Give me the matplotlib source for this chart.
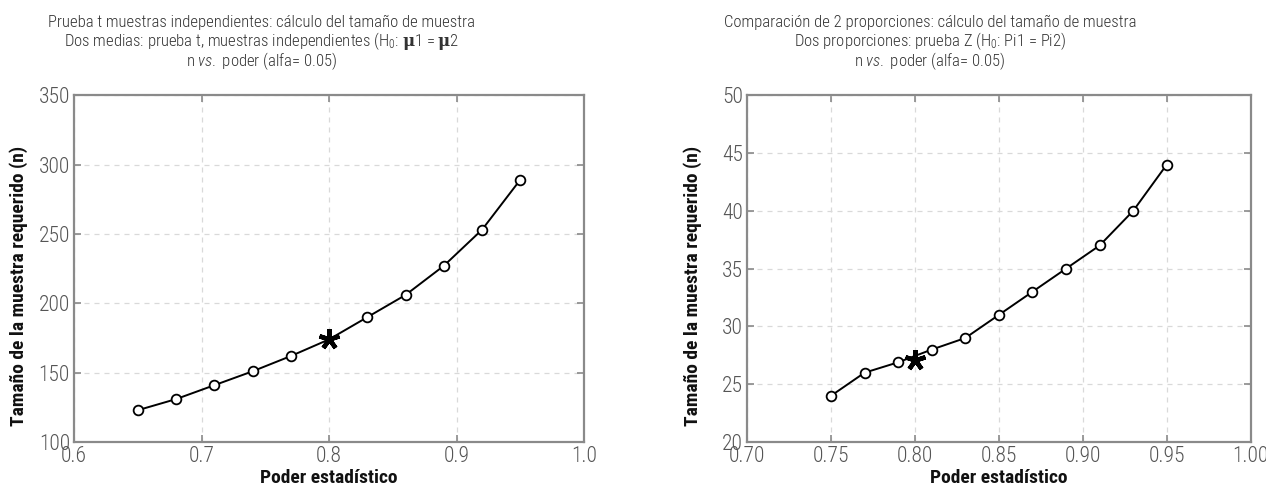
import matplotlib
matplotlib.use("Agg")
import matplotlib.pyplot as plt
from matplotlib import font_manager

# ---- data ----
power_t = [0.65, 0.68, 0.71, 0.74, 0.77, 0.83, 0.86, 0.89, 0.92, 0.95]
n_t = [123, 131, 141, 151, 162, 190, 206, 227, 253, 289]
star_t = (0.80, 174)

power_p = [0.75, 0.77, 0.79, 0.81, 0.83, 0.85, 0.87, 0.89, 0.91, 0.93, 0.95]
n_p = [24, 26, 26.9, 28, 29, 31, 33, 35, 37, 40, 44]
star_p = (0.80, 27.1)

xticks_t = [0.6, 0.7, 0.8, 0.9, 1.0]
xticklabels_t = ["0.6", "0.7", "0.8", "0.9", "1.0"]
yticks_t = [100, 150, 200, 250, 300, 350]

xticks_p = [0.70, 0.75, 0.80, 0.85, 0.90, 0.95, 1.00]
xticklabels_p = ["0.70", "0.75", "0.80", "0.85", "0.90", "0.95", "1.00"]
yticks_p = [20, 25, 30, 35, 40, 45, 50]

title_t = ["Prueba t muestras independientes: cálculo del tamaño de muestra",
           "Dos medias: prueba t, muestras independientes (H$_0$: $\\mathbf{\\mu}$1 = $\\mathbf{\\mu}$2",
           "n $\\it{vs.}$ poder (alfa= 0.05)"]
title_p = ["Comparación de 2 proporciones: cálculo del tamaño de muestra",
           "Dos proporciones: prueba Z (H$_0$: Pi1 = Pi2)",
           "n $\\it{vs.}$ poder (alfa= 0.05)"]
xlabel = "Poder estadístico"
ylabel = "Tamaño de la muestra requerido (n)"

# ---- fonts: prefer a narrow face ----
fonts = font_manager.fontManager.ttflist
names = {f.name for f in fonts}
family = None
for cand in ["Roboto Condensed", "Liberation Sans Narrow", "Arial Narrow"]:
    if cand in names:
        family = cand
        break
if family is None:
    family = "Liberation Sans" if "Liberation Sans" in names else "DejaVu Sans"
k = 1.0 if family in ("Roboto Condensed", "Liberation Sans Narrow", "Arial Narrow") else 0.82

plt.rcParams["font.family"] = [family, "DejaVu Sans"]
plt.rcParams["mathtext.fontset"] = "custom"
plt.rcParams["mathtext.rm"] = family + ":light"
plt.rcParams["mathtext.it"] = family + ":italic:light"
plt.rcParams["mathtext.bf"] = "DejaVu Serif:bold"

fig = plt.figure(figsize=(12.66, 4.94), dpi=100)
ax1 = fig.add_axes([0.0585, 0.105, 0.4028, 0.7025])
ax2 = fig.add_axes([0.590, 0.105, 0.398, 0.7025])

spine_c = "#8a8a8a"
tick_c = "#555555"
title_baselines = [27, 46.5, 66]


def style(ax, xticks, xlabels, yticks, title, title_x, ax_w_px, ylab_off):
    ax.set_xticks(xticks)
    ax.set_xticklabels(xlabels)
    ax.set_yticks(yticks)
    ax.set_xlim(xticks[0], xticks[-1])
    ax.set_ylim(yticks[0], yticks[-1])
    ax.grid(True, color="#d9d9d9", linestyle=(0, (4, 4)), linewidth=0.9)
    for s in ax.spines.values():
        s.set_color(spine_c)
        s.set_linewidth(1.6)
    ax.tick_params(direction="in", top=True, right=True, length=5, width=1.2,
                   color=spine_c, labelcolor=tick_c, labelsize=15.5 * k, pad=3)
    for lab in ax.get_xticklabels() + ax.get_yticklabels():
        lab.set_fontweight("light")
    ax.set_xlabel(xlabel, fontsize=14 * k, fontweight="bold", color="#111111", labelpad=1)
    ax.set_ylabel(ylabel, fontsize=14 * k, fontweight="bold", color="#111111")
    ax.yaxis.set_label_coords(-ylab_off / ax_w_px, 0.45)
    for line, yb in zip(title, title_baselines):
        fig.text(title_x, 1 - yb / 494, line, ha="center", va="baseline",
                 fontsize=12 * k, fontweight="light", color="#333333")


line_kw = dict(color="black", linewidth=1.4, marker="o", markersize=7,
               markerfacecolor="white", markeredgecolor="black", markeredgewidth=1.3,
               zorder=3)
star_kw = dict(marker=(5, 2, 0), markersize=15, markeredgewidth=3.2,
               color="black", linestyle="none", zorder=4)

# left chart: line passes through the highlighted point
xs_t = power_t[:5] + [star_t[0]] + power_t[5:]
ys_t = n_t[:5] + [star_t[1]] + n_t[5:]
ax1.plot(xs_t, ys_t, color="black", linewidth=1.4, zorder=2)
ax1.plot(power_t, n_t, linestyle="none",
         **{kk: v for kk, v in line_kw.items() if kk not in ("color", "linewidth")})
ax1.plot([star_t[0]], [star_t[1]], **star_kw)
style(ax1, xticks_t, xticklabels_t, yticks_t, title_t, 262 / 1266, 510, 46)

ax2.plot(power_p, n_p, **line_kw)
ax2.plot([star_p[0]], [star_p[1]], **star_kw)
style(ax2, xticks_p, xticklabels_p, yticks_p, title_p, 930 / 1266, 504, 45)

fig.savefig("out.png", dpi=100)
